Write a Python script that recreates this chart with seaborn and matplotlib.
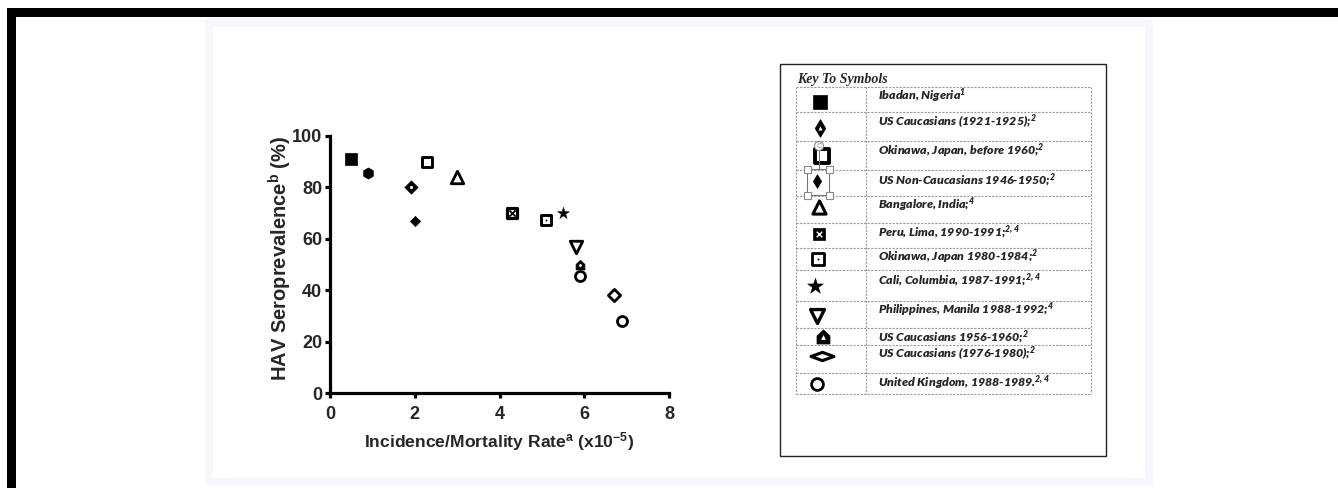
import matplotlib
matplotlib.use("Agg")
import matplotlib.pyplot as plt
import seaborn as sns
import numpy as np
from matplotlib.patches import Rectangle, FancyBboxPatch, Circle
from matplotlib.path import Path

# ---------------- data ----------------
key_codes = ["ibadan", "usc1921", "oki1960", "usnc1946", "bangalore", "peru",
             "oki1980", "cali", "manila", "usc1956", "usc1976", "uk"]
key_labels = [
    "Ibadan, Nigeria$^{1}$",
    "US Caucasians (1921-1925);$^{2}$",
    "Okinawa, Japan, before 1960;$^{2}$",
    "US Non-Caucasians 1946-1950;$^{2}$",
    "Bangalore, India;$^{4}$",
    "Peru, Lima, 1990-1991;$^{2,4}$",
    "Okinawa, Japan 1980-1984;$^{2}$",
    "Cali, Columbia, 1987-1991;$^{2,4}$",
    "Philippines, Manila 1988-1992;$^{4}$",
    "US Caucasians 1956-1960;$^{2}$",
    "US Caucasians (1976-1980);$^{2}$",
    "United Kingdom, 1988-1989.$^{2,4}$",
]
point_codes = ["ibadan", "hexagon", "usc1921", "oki1960", "usnc1946", "bangalore",
               "peru", "oki1980", "cali", "manila", "usc1956", "uk", "usc1976", "uk"]
incidence_rate = [0.5, 0.9, 1.9, 2.3, 2.0, 3.0, 4.3, 5.1, 5.5, 5.8, 5.9, 5.9, 6.7, 6.9]
seroprevalence = [91, 85.5, 80, 90, 67, 84, 70, 67.5, 70, 57, 50, 45.5, 38, 28]
x_ticks = [0, 2, 4, 6, 8]
y_ticks = [0, 20, 40, 60, 80, 100]

# ---------------- style ----------------
sns.set_theme(style="white")
plt.rcParams["font.family"] = ["Liberation Sans", "DejaVu Sans"]
plt.rcParams["mathtext.default"] = "regular"

house = Path([(0, 1), (0.85, 0.2), (0.85, -0.85), (-0.85, -0.85), (-0.85, 0.2), (0, 1)],
             [Path.MOVETO, Path.LINETO, Path.LINETO, Path.LINETO, Path.LINETO, Path.CLOSEPOLY])
wide_diamond = Path([(-1, 0), (0, 0.36), (1, 0), (0, -0.36), (-1, 0)],
                    [Path.MOVETO, Path.LINETO, Path.LINETO, Path.LINETO, Path.CLOSEPOLY])

# layers: (marker, size_pt, face, edge, linewidth_pt)
plot_style = {
    "ibadan":   [("s", 8.0, "black", "black", 0.5)],
    "hexagon":  [("h", 8.0, "black", "black", 0.5)],
    "usc1921":  [("D", 6.5, "black", "black", 0.8), ("o", 2.2, "white", "white", 0)],
    "oki1960":  [("s", 7.8, "white", "black", 2.1)],
    "usnc1946": [("D", 5.2, "black", "black", 0.5)],
    "bangalore": [("^", 9.0, "white", "black", 2.0)],
    "peru":     [("s", 7.2, "white", "black", 2.3), ("x", 4.5, "black", "black", 1.3)],
    "oki1980":  [("s", 7.2, "white", "black", 2.1), ("o", 1.4, "black", "black", 0)],
    "cali":     [("*", 9.0, "black", "black", 0.3)],
    "manila":   [("v", 9.0, "white", "black", 2.0)],
    "usc1956":  [(house, 7.5, "black", "black", 0.5), ("o", 2.0, "white", "white", 0)],
    "uk":       [("o", 7.2, "white", "black", 2.0)],
    "usc1976":  [("D", 6.2, "white", "black", 2.0)],
}

legend_style = {
    "ibadan":   [("s", 10.0, "black", "black", 0.5)],
    "usc1921":  [("d", 9.0, "black", "black", 0.5), ("^", 3.0, "white", "white", 0)],
    "oki1960":  [("s", 10.5, "white", "black", 2.8)],
    "usnc1946": [("d", 7.0, "black", "black", 0.5)],
    "bangalore": [("^", 9.5, "white", "black", 2.2)],
    "peru":     [("s", 8.5, "black", "black", 0.5), ("x", 4.0, "white", "white", 1.0)],
    "oki1980":  [("s", 8.0, "white", "black", 2.0), ("o", 1.4, "black", "black", 0)],
    "cali":     [("*", 12.0, "black", "black", 0.3)],
    "manila":   [("v", 10.0, "white", "black", 2.4)],
    "usc1956":  [(house, 11.0, "black", "black", 0.5), ("^", 3.5, "white", "white", 0)],
    "usc1976":  [(wide_diamond, 16.5, "white", "black", 2.2)],
    "uk":       [("o", 8.5, "white", "black", 2.0)],
}

W, H = 1338, 488
fig = plt.figure(figsize=(W / 100, H / 100), dpi=100)
fig.patch.set_facecolor("white")

# full-figure canvas in pixel coordinates
cv = fig.add_axes([0, 0, 1, 1], zorder=0)
cv.set_xlim(0, W)
cv.set_ylim(H, 0)
cv.axis("off")

cv.add_patch(Rectangle((7, 8), W - 7, 9, color="black", lw=0))
cv.add_patch(Rectangle((7, 8), 9, H - 8, color="black", lw=0))
cv.add_patch(FancyBboxPatch((205, 19), 948, 467, boxstyle="round,pad=0,rounding_size=5",
                            facecolor="#f6f7fc", edgecolor="none"))
cv.add_patch(Rectangle((213, 27), 932, 451, facecolor="white", edgecolor="none"))

# legend box
cv.add_patch(Rectangle((780, 64), 326, 392, facecolor="white", edgecolor="#222222", lw=1.0))
cv.text(797, 79, "Key To Symbols", family=["Liberation Serif"], fontweight="bold",
        fontstyle="italic", fontsize=10.0, va="center", ha="left")
rows = [87, 112, 141, 170, 196, 223, 248, 270, 301, 328, 345, 373, 394]
col_x = [796, 866, 1091]
dash = dict(color="#9a9a9a", lw=0.8, linestyle=(0, (2.0, 1.2)))
for yb in rows:
    cv.plot([col_x[0], col_x[-1]], [yb, yb], **dash)
for xb in col_x:
    cv.plot([xb, xb], [rows[0], rows[-1]], **dash)

text_y = [96, 122, 151, 180, 205, 232, 257, 280, 310, 337, 354, 383]
icon_xy = [(820, 102), (820, 128), (822, 156), (817, 181), (819, 207), (819, 234),
           (818, 259), (815, 286), (817, 316), (823, 337), (822, 356), (817, 384)]
for code, lab, ty, (ix, iy) in zip(key_codes, key_labels, text_y, icon_xy):
    cv.text(878, ty, lab, family=["Lato", "DejaVu Sans"], fontweight="heavy",
            fontstyle="italic", fontsize=8.9, va="center", ha="left")
    for (m, ms, fc, ec, lw) in legend_style[code]:
        sns.scatterplot(x=[ix], y=[iy], marker=m, s=ms ** 2, color=fc, edgecolor=ec,
                        linewidth=lw, ax=cv, zorder=4, legend=False)

# selection-handle artefact on the key
cv.add_patch(Rectangle((807, 169), 22, 26, facecolor="none", edgecolor="#777777", lw=0.8, zorder=5))
cv.plot([819, 819], [150, 169], color="#777777", lw=0.8, zorder=5)
cv.add_patch(Circle((819, 146), 4.5, facecolor="white", edgecolor="#888888", lw=0.8, zorder=6))
cv.text(819, 146, "C", fontsize=5, color="#888888", ha="center", va="center", zorder=7)
for hx, hy in [(807, 169), (829, 169), (807, 195), (829, 195)]:
    cv.add_patch(Rectangle((hx - 3.5, hy - 3.5), 7, 7, facecolor="white",
                           edgecolor="#888888", lw=0.8, zorder=6))

# ---------------- main scatter ----------------
ax = fig.add_axes([330 / W, 1 - 393 / H, (669 - 330) / W, (393 - 136) / H], zorder=2)
ax.patch.set_alpha(0)
for code, xv, yv in zip(point_codes, incidence_rate, seroprevalence):
    for (m, ms, fc, ec, lw) in plot_style[code]:
        sns.scatterplot(x=[xv], y=[yv], marker=m, s=ms ** 2, color=fc, edgecolor=ec,
                        linewidth=lw, ax=ax, zorder=3, legend=False, clip_on=False)

ax.set_xlim(0, 8)
ax.set_ylim(0, 100)
ax.set_xticks(x_ticks)
ax.set_yticks(y_ticks)
sns.despine(ax=ax)
for sp in ["left", "bottom"]:
    ax.spines[sp].set_linewidth(2.3)
    ax.spines[sp].set_color("black")
ax.tick_params(axis="both", direction="out", length=3.5, width=2.3, color="black",
               labelsize=13, bottom=True, left=True)
ax.tick_params(axis="x", pad=6)
ax.tick_params(axis="y", pad=2)
for t in ax.get_xticklabels() + ax.get_yticklabels():
    t.set_fontweight("bold")
ax.set_xlabel("Incidence/Mortality Rate$^{a}$ (x10$^{-5}$)", fontsize=12.6,
              fontweight="bold", labelpad=5)
ax.set_ylabel("HAV Seroprevalence$^{b}$ (%)", fontsize=14.5, fontweight="bold")
ax.yaxis.set_label_coords(-0.106, 0.525)

fig.savefig("out.png", dpi=100)
